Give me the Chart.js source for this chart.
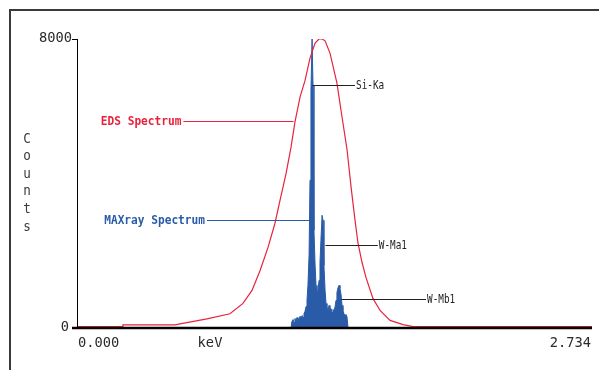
<!DOCTYPE html>
<html>
<head>
<meta charset="utf-8">
<script src="https://cdn.jsdelivr.net/npm/chart.js@4"></script>
<style>
  html, body { margin: 0; padding: 0; background: #fff; }
  #wrap { width: 599px; height: 370px; }
</style>
</head>
<body>
<div id="wrap"><canvas id="spectrum" width="599" height="370"></canvas></div>
<script>
// EDS spectrum (red), keV vs counts
const edsKeV = [0.000, 0.239, 0.244, 0.520, 0.547, 0.690, 0.812, 0.881, 0.929, 0.972, 1.014, 1.051, 1.078, 1.110,
    1.136, 1.157, 1.184, 1.211, 1.237, 1.264, 1.285, 1.301, 1.317, 1.343, 1.380, 1.407, 1.434, 1.455, 1.476,
    1.492, 1.513, 1.534, 1.571, 1.609, 1.662, 1.731, 1.784, 2.734];
const edsCounts = [40, 40, 85, 85, 115, 255, 395, 680, 1040, 1590, 2230, 2900, 3540, 4280,
    5000, 5700, 6390, 6860, 7470, 7890, 8000, 8000, 7950, 7610, 6780, 5840, 4920, 3900, 2980,
    2340, 1820, 1400, 820, 485, 210, 95, 40, 40];

// MAXray spectrum (blue), keV vs counts
const maxKeV = [1.136, 1.141, 1.147, 1.152, 1.157, 1.163, 1.168, 1.173, 1.179, 1.184, 1.189, 1.195, 1.200, 1.205,
    1.210, 1.216, 1.221, 1.226, 1.232, 1.237, 1.242, 1.248, 1.253, 1.258, 1.264, 1.269, 1.274, 1.279, 1.285,
    1.290, 1.295, 1.301, 1.306, 1.311, 1.317, 1.322, 1.327, 1.333, 1.338, 1.343, 1.348, 1.354, 1.359, 1.364,
    1.370, 1.375, 1.380, 1.386, 1.391, 1.396, 1.401, 1.407, 1.412, 1.417, 1.423, 1.428, 1.433, 1.439];
const maxCounts = [0, 180, 235, 150, 265, 210, 290, 210, 265, 320, 235, 345, 290, 400,
    455, 595, 765, 1180, 2010, 4090, 6590, 8000, 6700, 2700, 1730, 1180, 900, 1040, 1320,
    1820, 2430, 3120, 2980, 1730, 1040, 680, 595, 485, 625, 455, 540, 430, 515, 455,
    595, 765, 985, 1120, 1180, 1095, 955, 625, 485, 400, 345, 375, 320, 0];

const xTickLabels = ['0.000', '2.734'];
const xRange = [0, 2.734];
const yTicks = [0, 8000];
const xTitle = 'keV';
const yTitle = 'Counts';

// callouts: label, line start keV, line end keV, counts level
const callLabels = ['EDS Spectrum', 'MAXray Spectrum', 'Si-Ka', 'W-Ma1', 'W-Mb1'];
const callFrom = [0.565, 0.690, 1.250, 1.319, 1.404];
const callTo = [1.150, 1.243, 1.476, 1.597, 1.853];
const callCounts = [5730, 3000, 6720, 2290, 790];

const RED = '#e8233d';
const BLUE = '#2a5ba8';

function drawText(ctx, text, x, y, font, color, align, sx) {
    ctx.save();
    ctx.font = font;
    ctx.fillStyle = color;
    ctx.textBaseline = 'middle';
    ctx.textAlign = align;
    ctx.translate(x, y);
    ctx.scale(sx || 1, 1);
    ctx.fillText(text, 0, 0);
    ctx.restore();
}

const decor = {
    id: 'decor',
    afterDatasetsDraw(chart) {
        const ctx = chart.ctx;
        const xs = chart.scales.x, ys = chart.scales.y;
        const y0 = ys.getPixelForValue(yTicks[0]);
        const yTop = ys.getPixelForValue(yTicks[1]);
        const xL = xs.getPixelForValue(xRange[0]);
        const xR = xs.getPixelForValue(xRange[1]);

        ctx.save();
        // outer frame (top + left)
        ctx.strokeStyle = '#3a3a3a';
        ctx.lineWidth = 2;
        ctx.beginPath();
        ctx.moveTo(10, 370); ctx.lineTo(10, 10); ctx.lineTo(599, 10);
        ctx.stroke();

        // axes
        ctx.strokeStyle = '#000';
        ctx.lineWidth = 1;
        ctx.beginPath();
        ctx.moveTo(Math.round(xL) + 0.5, yTop); ctx.lineTo(Math.round(xL) + 0.5, y0);
        ctx.moveTo(xL - 5, Math.round(yTop) + 0.5); ctx.lineTo(xL + 1, Math.round(yTop) + 0.5);
        ctx.stroke();
        ctx.lineWidth = 2.5;
        ctx.beginPath();
        ctx.moveTo(xL - 5, y0); ctx.lineTo(xR, y0);
        ctx.stroke();

        // tick labels
        const tickFont = '14px "DejaVu Sans Mono"';
        drawText(ctx, String(yTicks[1]), xL - 5, yTop - 1, tickFont, '#2a2a2a', 'right', 0.98);
        drawText(ctx, String(yTicks[0]), xL - 8, y0 - 1, tickFont, '#2a2a2a', 'right', 0.98);
        drawText(ctx, xTickLabels[0], xL + 1, 343, tickFont, '#2a2a2a', 'left', 0.98);
        drawText(ctx, xTickLabels[1], xR - 1, 343, tickFont, '#2a2a2a', 'right', 0.98);
        drawText(ctx, xTitle, 210, 343, tickFont, '#2a2a2a', 'center', 0.98);

        // stacked y title
        for (let i = 0; i < yTitle.length; i++) {
            drawText(ctx, yTitle[i], 27, 139 + i * 17.6, '14px "DejaVu Sans Mono"', '#3a3a3a', 'center', 0.9);
        }

        // callouts
        const colors = [RED, BLUE, '#222', '#222', '#222'];
        for (let i = 0; i < callLabels.length; i++) {
            const a = xs.getPixelForValue(callFrom[i]);
            const b = xs.getPixelForValue(callTo[i]);
            const py = Math.round(ys.getPixelForValue(callCounts[i])) + 0.5;
            ctx.strokeStyle = colors[i];
            ctx.lineWidth = 1;
            ctx.beginPath();
            ctx.moveTo(a, py); ctx.lineTo(b, py);
            ctx.stroke();
            if (i < 2) {
                drawText(ctx, callLabels[i], a - 2, py, 'bold 12px "DejaVu Sans Mono"', colors[i], 'right', 0.93);
            } else {
                drawText(ctx, callLabels[i], b + 1, py, '13px "DejaVu Sans Mono"', '#222', 'left', 0.72);
            }
        }
        ctx.restore();
    }
};

new Chart(document.getElementById('spectrum').getContext('2d'), {
    type: 'line',
    data: {
        datasets: [{
            label: 'EDS Spectrum',
            data: edsKeV.map((e, i) => ({ x: e, y: edsCounts[i] })),
            borderColor: RED,
            borderWidth: 1.2,
            pointRadius: 0,
            fill: false,
            tension: 0
        }, {
            label: 'MAXray Spectrum',
            data: maxKeV.map((e, i) => ({ x: e, y: maxCounts[i] })),
            borderColor: BLUE,
            backgroundColor: BLUE,
            borderWidth: 1,
            pointRadius: 0,
            fill: 'origin',
            tension: 0
        }]
    },
    options: {
        responsive: false,
        animation: false,
        layout: { padding: { left: 77, top: 39, right: 7, bottom: 42 } },
        plugins: { legend: { display: false }, tooltip: { enabled: false } },
        scales: {
            x: { type: 'linear', min: xRange[0], max: xRange[1], display: false },
            y: { min: yTicks[0], max: yTicks[1], display: false }
        }
    },
    plugins: [decor]
});
</script>
</body>
</html>
